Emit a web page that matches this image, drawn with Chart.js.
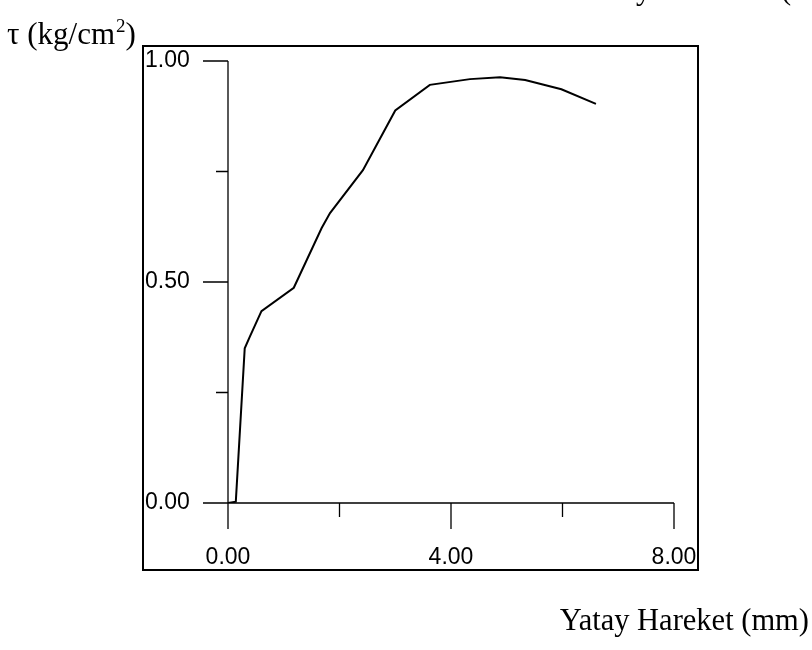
<!DOCTYPE html>
<html>
<head>
<meta charset="utf-8">
<script src="https://cdn.jsdelivr.net/npm/chart.js@4/dist/chart.umd.min.js"></script>
<style>
  html, body { margin: 0; padding: 0; background: #fff; }
  #wrap { width: 812px; height: 650px; position: relative; }
</style>
</head>
<body>
<div id="wrap"><canvas id="c" width="812" height="650"></canvas></div>
<script>
// ---- data ----
const displacement = [0, 0.14, 0.30, 0.39, 0.60, 1.18, 1.68, 1.83, 2.42, 3.00, 3.62, 4.34, 4.88, 5.33, 5.98, 6.60];
const shearStress  = [0, 0.003, 0.350, 0.376, 0.434, 0.487, 0.622, 0.656, 0.753, 0.888, 0.946, 0.959, 0.963, 0.957, 0.936, 0.903];

const xTickValues = [0, 4, 8];
const xTickLabels = ['0.00', '4.00', '8.00'];
const xMinorTicks = [2, 6];
const yTickValues = [0, 0.5, 1];
const yTickLabels = ['0.00', '0.50', '1.00'];
const yMinorTicks = [0.25, 0.75];

const yTitleParts = ['τ (kg/cm', '2', ')'];
const xTitle = 'Yatay Hareket (mm)';
const topFragments = ['y', '('];

const points = displacement.map((x, i) => ({ x: x, y: shearStress[i] }));

const frame = {
  id: 'frame',
  afterDraw(chart) {
    const ctx = chart.ctx;
    const xs = chart.scales.x, ys = chart.scales.y;
    ctx.save();
    ctx.strokeStyle = '#000';
    // outer box
    ctx.lineWidth = 2;
    ctx.strokeRect(143, 46, 555, 524);
    // axis lines
    ctx.lineWidth = 1.3;
    const x0 = xs.getPixelForValue(0), x8 = xs.getPixelForValue(8);
    const y0 = ys.getPixelForValue(0), y1 = ys.getPixelForValue(1);
    ctx.beginPath();
    ctx.moveTo(x0, y1); ctx.lineTo(x0, y0);
    ctx.moveTo(x0, y0); ctx.lineTo(x8, y0);
    yTickValues.forEach(v => { const p = ys.getPixelForValue(v); ctx.moveTo(x0 - 25, p); ctx.lineTo(x0, p); });
    yMinorTicks.forEach(v => { const p = ys.getPixelForValue(v); ctx.moveTo(x0 - 12, p); ctx.lineTo(x0, p); });
    xTickValues.forEach(v => { const p = xs.getPixelForValue(v); ctx.moveTo(p, y0); ctx.lineTo(p, y0 + 26); });
    xMinorTicks.forEach(v => { const p = xs.getPixelForValue(v); ctx.moveTo(p, y0); ctx.lineTo(p, y0 + 14); });
    ctx.stroke();
    // titles
    ctx.fillStyle = '#000';
    const big = '31px "Liberation Serif", "Times New Roman", serif';
    const small = '19px "Liberation Serif", "Times New Roman", serif';
    ctx.textBaseline = 'alphabetic';
    ctx.textAlign = 'left';
    let tx = 7;
    ctx.font = big;
    ctx.fillText(yTitleParts[0], tx, 44);
    tx += ctx.measureText(yTitleParts[0]).width + 1;
    ctx.font = small;
    ctx.fillText(yTitleParts[1], tx, 32);
    tx += ctx.measureText(yTitleParts[1]).width;
    ctx.font = big;
    ctx.fillText(yTitleParts[2], tx, 44);
    ctx.font = '30.5px "Liberation Serif", "Times New Roman", serif';
    ctx.textAlign = 'right';
    ctx.fillText(xTitle, 809, 630);
    ctx.textAlign = 'left';
    ctx.fillText(topFragments[0], 636, -1);
    ctx.fillText(topFragments[1], 781, -1);
    ctx.restore();
  }
};

new Chart(document.getElementById('c'), {
  type: 'scatter',
  data: {
    datasets: [{
      data: points,
      showLine: true,
      borderColor: '#000',
      borderWidth: 2,
      pointRadius: 0,
      pointHoverRadius: 0,
      tension: 0,
      fill: false
    }]
  },
  options: {
    responsive: false,
    animation: false,
    events: [],
    layout: { padding: { left: 145, right: 138, top: 61, bottom: 0 } },
    plugins: { legend: { display: false }, tooltip: { enabled: false }, title: { display: false } },
    scales: {
      x: {
        type: 'linear', min: 0, max: 8,
        border: { display: false },
        grid: { display: false, drawTicks: false },
        afterBuildTicks: s => { s.ticks = xTickValues.map(v => ({ value: v })); },
        afterFit: s => { s.height = 147; },
        ticks: {
          autoSkip: false, maxRotation: 0, minRotation: 0,
          padding: 41, color: '#000',
          font: { family: '"Liberation Sans", Arial, sans-serif', size: 23 },
          callback: (v, i) => xTickLabels[i]
        }
      },
      y: {
        type: 'linear', min: 0, max: 1,
        border: { display: false },
        grid: { display: false, drawTicks: false },
        afterBuildTicks: s => { s.ticks = yTickValues.map(v => ({ value: v })); },
        afterFit: s => { s.width = 83; },
        ticks: {
          autoSkip: false, crossAlign: 'far', color: '#000',
          font: { family: '"Liberation Sans", Arial, sans-serif', size: 23 },
          callback: (v, i) => yTickLabels[i]
        }
      }
    }
  },
  plugins: [frame]
});
</script>
</body>
</html>
